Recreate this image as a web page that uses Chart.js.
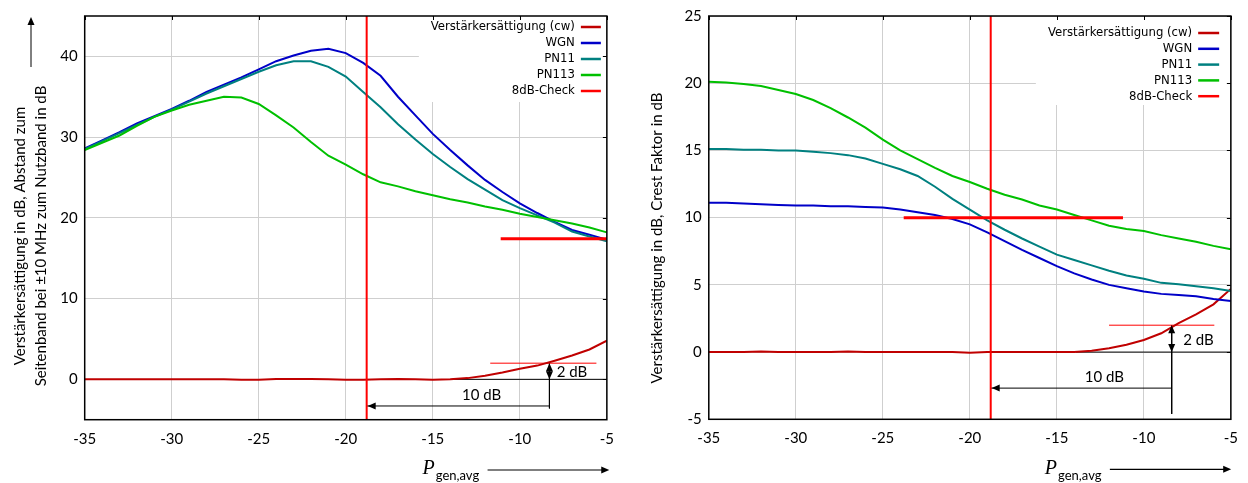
<!DOCTYPE html>
<html>
<head>
<meta charset="utf-8">
<script src="https://cdn.jsdelivr.net/npm/chart.js@4.4.1/dist/chart.umd.min.js"></script>
<style>
  html, body { margin: 0; padding: 0; background: #fff; }
  #wrap { position: relative; width: 1248px; height: 483px; }
  #wrap canvas { position: absolute; top: 0; }
</style>
</head>
<body>
<div id="wrap">
  <canvas id="sideband" width="624" height="483" style="left:0"></canvas>
  <canvas id="crest" width="624" height="483" style="left:624px"></canvas>
</div>
<script>
// Generator power P_gen,avg in dB (common abscissa of all measured curves)
const pGen = [-35, -34, -33, -32, -31, -30, -29, -28, -27, -26, -25, -24, -23, -22, -21, -20,
              -19, -18, -17, -16, -15, -14, -13, -12, -11, -10, -9, -8, -7, -6, -5];

// Left: amplifier saturation and sideband distance at ±10 MHz
const sideCw    = [0, 0, 0, 0, 0, 0, 0, 0, 0, -0.05, -0.05, 0.05, 0.05, 0.05, 0, -0.05, -0.05, 0, 0.05, 0, -0.05, 0,
                   0.15, 0.45, 0.85, 1.3, 1.7, 2.3, 2.95, 3.7, 4.8];
const sideWgn   = [28.6, 29.6, 30.6, 31.7, 32.6, 33.5, 34.5, 35.6, 36.5, 37.4, 38.4, 39.4, 40.1, 40.7, 40.95, 40.4,
                   39.2, 37.6, 35.0, 32.7, 30.4, 28.4, 26.5, 24.7, 23.2, 21.8, 20.6, 19.5, 18.5, 17.9, 17.3];
const sidePn11  = [28.5, 29.5, 30.5, 31.5, 32.5, 33.4, 34.4, 35.4, 36.3, 37.2, 38.1, 38.9, 39.4, 39.4, 38.7, 37.5,
                   35.6, 33.7, 31.6, 29.7, 27.9, 26.3, 24.8, 23.5, 22.2, 21.2, 20.3, 19.4, 18.3, 17.7, 17.1];
const sidePn113 = [28.4, 29.3, 30.2, 31.4, 32.5, 33.3, 34.0, 34.5, 35.0, 34.9, 34.1, 32.7, 31.2, 29.4, 27.7, 26.6,
                   25.4, 24.4, 23.9, 23.3, 22.8, 22.3, 21.9, 21.4, 21.0, 20.5, 20.1, 19.7, 19.3, 18.8, 18.2];

// Right: amplifier saturation and crest factor
const crestCw    = [0, 0, 0, 0.05, 0, 0, 0, 0, 0.05, 0, 0, 0, 0, 0, 0, -0.05, 0, 0, 0, 0, 0, 0,
                    0.1, 0.28, 0.55, 0.9, 1.4, 2.15, 2.8, 3.55, 4.7];
const crestWgn   = [11.1, 11.1, 11.05, 11.0, 10.95, 10.9, 10.9, 10.85, 10.85, 10.8, 10.75, 10.6, 10.4, 10.2, 9.9, 9.5,
                    8.9, 8.25, 7.6, 7.0, 6.4, 5.85, 5.4, 5.0, 4.75, 4.5, 4.33, 4.25, 4.15, 3.95, 3.8];
const crestPn11  = [15.1, 15.1, 15.05, 15.05, 15.0, 15.0, 14.9, 14.8, 14.65, 14.4, 14.0, 13.6, 13.1, 12.3, 11.4, 10.6,
                    9.8, 9.1, 8.45, 7.85, 7.25, 6.85, 6.45, 6.05, 5.7, 5.45, 5.15, 5.05, 4.9, 4.75, 4.55];
const crestPn113 = [20.1, 20.05, 19.95, 19.8, 19.5, 19.2, 18.75, 18.15, 17.45, 16.7, 15.8, 15.0, 14.35, 13.7, 13.1, 12.65,
                    12.15, 11.7, 11.35, 10.9, 10.6, 10.2, 9.8, 9.4, 9.15, 9.0, 8.7, 8.45, 8.2, 7.9, 7.65];

// 8 dB check: operating point 10 dB below the 2 dB saturation point
const checkPower   = -18.8;          // vertical check line
const sideCheck    = [-11.1, -5];    // horizontal check segment (x range), left
const sideCheckLvl = 17.4;
const crestCheck   = [-23.8, -11.2]; // horizontal check segment (x range), right
const crestCheckLvl = 10;
const satLevel     = 2;              // "2 dB" saturation marker
const sideSatPoint = -8.3;
const crestSatPoint = -8.4;

// Axis ticks
const xTicks     = [-35, -30, -25, -20, -15, -10, -5];
const sideYTicks = [0, 10, 20, 30, 40];
const crestYTicks = [-5, 0, 5, 10, 15, 20, 25];

const legendLabels = ['Verstärkersättigung (cw)', 'WGN', 'PN11', 'PN113', '8dB-Check'];
const colors = { cw: '#c00000', wgn: '#0000c8', pn11: '#008080', pn113: '#00c000', check: '#ff0000' };

const TICK_FONT = 'Lato';
const LEGEND_FONT = '"DejaVu Sans Condensed", "DejaVu Sans", sans-serif';

function pts(xs, ys) { return xs.map((x, i) => ({ x: x, y: ys[i] })); }

function curve(label, ys, color, order) {
  return { label, data: pts(pGen, ys), borderColor: color, borderWidth: 2, pointRadius: 0,
           tension: 0, fill: false, order };
}
function seg(data, color, width, order) {
  return { label: '', data, borderColor: color, borderWidth: width, pointRadius: 0,
           tension: 0, fill: false, order };
}

function arrowHead(ctx, x, y, dx, dy) {
  const len = 8, half = 3.5;
  const px = -dy, py = dx;
  ctx.beginPath();
  ctx.moveTo(x, y);
  ctx.lineTo(x - dx * len + px * half, y - dy * len + py * half);
  ctx.lineTo(x - dx * len - px * half, y - dy * len - py * half);
  ctx.closePath();
  ctx.fill();
}

function buildChart(id, cfg) {
  const ds = [
    curve(legendLabels[0], cfg.cw, colors.cw, 5),
    curve(legendLabels[1], cfg.wgn, colors.wgn, 4),
    curve(legendLabels[2], cfg.pn11, colors.pn11, 3),
    curve(legendLabels[3], cfg.pn113, colors.pn113, 2),
    seg([{ x: checkPower, y: cfg.yMin }, { x: checkPower, y: cfg.yMax }], colors.check, 2, 1),
    seg([{ x: cfg.check[0], y: cfg.checkLvl }, { x: cfg.check[1], y: cfg.checkLvl }], colors.check, 3, 0),
    // saturation marker and dimension lines
    seg([{ x: cfg.satLine[0], y: satLevel }, { x: cfg.satLine[1], y: satLevel }], colors.check, 1, 6),
    seg([{ x: -13.9, y: 0 }, { x: -5, y: 0 }], '#000', 1, 7),
    seg([{ x: cfg.satPoint, y: satLevel }, { x: cfg.satPoint, y: cfg.dimEnd }], '#000', 1, 7),
    seg([{ x: cfg.satPoint, y: cfg.dimY }, { x: checkPower, y: cfg.dimY }], '#000', 1, 7)
  ];

  const frame = {
    id: 'frame',
    beforeDatasetsDraw(chart) {
      const { ctx, chartArea: a } = chart;
      const L = cfg.legend;
      ctx.save();
      ctx.fillStyle = '#fff';
      ctx.fillRect(a.right - L.boxWidth, a.top + 1, L.boxWidth - 1, L.boxHeight);
      ctx.font = '13px ' + LEGEND_FONT;
      ctx.textAlign = 'right';
      ctx.textBaseline = 'middle';
      const cols = [colors.cw, colors.wgn, colors.pn11, colors.pn113, colors.check];
      legendLabels.forEach((t, i) => {
        const y = a.top + L.first + i * L.step;
        ctx.fillStyle = '#000';
        ctx.fillText(t, a.right - L.textRight, y);
        ctx.strokeStyle = cols[i];
        ctx.lineWidth = 2.5;
        ctx.beginPath();
        ctx.moveTo(a.right - L.lineFrom, y);
        ctx.lineTo(a.right - L.lineTo, y);
        ctx.stroke();
      });
      ctx.restore();
    },
    afterDatasetsDraw(chart) {
      const { ctx, chartArea: a, scales } = chart;
      const xs = scales.x, ys = scales.y;
      ctx.save();
      // frame
      ctx.strokeStyle = '#000';
      ctx.lineWidth = 1.5;
      ctx.strokeRect(a.left, a.top, a.right - a.left, a.bottom - a.top);
      // mirrored inward ticks
      ctx.lineWidth = 1;
      ctx.beginPath();
      xTicks.forEach(v => {
        const px = Math.round(xs.getPixelForValue(v)) + 0.5;
        ctx.moveTo(px, a.top); ctx.lineTo(px, a.top + 4);
      });
      cfg.yTicks.forEach(v => {
        const py = Math.round(ys.getPixelForValue(v)) + 0.5;
        ctx.moveTo(a.right, py); ctx.lineTo(a.right - 4, py);
      });
      ctx.stroke();
      // arrow heads of the dimension lines
      ctx.fillStyle = '#000';
      const sx = xs.getPixelForValue(cfg.satPoint);
      arrowHead(ctx, sx, ys.getPixelForValue(satLevel), 0, -1);
      arrowHead(ctx, sx, ys.getPixelForValue(0), 0, 1);
      arrowHead(ctx, xs.getPixelForValue(checkPower) + 1, ys.getPixelForValue(cfg.dimY), -1, 0);
      // dimension labels
      ctx.font = '15px ' + TICK_FONT;
      ctx.textAlign = 'center';
      ctx.textBaseline = 'middle';
      ctx.fillText('2 dB', xs.getPixelForValue(cfg.satLabel[0]), ys.getPixelForValue(cfg.satLabel[1]));
      ctx.fillText('10 dB', xs.getPixelForValue(cfg.dimLabel[0]), ys.getPixelForValue(cfg.dimLabel[1]));
      ctx.restore();
    },
    afterDraw(chart) {
      const { ctx, chartArea: a } = chart;
      ctx.save();
      ctx.fillStyle = '#000';
      ctx.strokeStyle = '#000';
      // y axis title
      ctx.font = '15px ' + TICK_FONT;
      ctx.textAlign = 'center';
      ctx.textBaseline = 'middle';
      cfg.yTitle.forEach((t, i) => {
        ctx.save();
        ctx.translate(cfg.yTitleX[i], cfg.yTitleMid);
        ctx.rotate(-Math.PI / 2);
        ctx.fillText(t, 0, 0);
        ctx.restore();
      });
      if (cfg.yArrow) {
        ctx.lineWidth = 1;
        ctx.beginPath();
        ctx.moveTo(cfg.yArrow[0], cfg.yArrow[1]);
        ctx.lineTo(cfg.yArrow[0], cfg.yArrow[2] + 6);
        ctx.stroke();
        arrowHead(ctx, cfg.yArrow[0], cfg.yArrow[2], 0, -1);
      }
      // x axis title: P_gen,avg followed by an arrow
      const px = a.right - cfg.xTitle[0];
      ctx.textAlign = 'left';
      ctx.textBaseline = 'alphabetic';
      ctx.font = 'italic 20px "Liberation Serif", serif';
      ctx.fillText('P', px, 474);
      const pw = ctx.measureText('P').width;
      ctx.font = '13px ' + TICK_FONT;
      ctx.fillText('gen,avg', px + pw + 1, 480);
      ctx.lineWidth = 1.2;
      ctx.beginPath();
      ctx.moveTo(a.right - cfg.xTitle[1], cfg.xTitle[2]);
      ctx.lineTo(a.right + cfg.xTitle[3] - 6, cfg.xTitle[2]);
      ctx.stroke();
      arrowHead(ctx, a.right + cfg.xTitle[3], cfg.xTitle[2], 1, 0);
      ctx.restore();
    }
  };

  const tickFont = { family: TICK_FONT, size: 15 };
  return new Chart(document.getElementById(id), {
    type: 'line',
    data: { datasets: ds },
    options: {
      responsive: false,
      animation: false,
      devicePixelRatio: 1,
      layout: { padding: cfg.padding },
      plugins: { legend: { display: false }, tooltip: { enabled: false } },
      scales: {
        x: {
          type: 'linear', min: -35, max: -5,
          afterBuildTicks: s => { s.ticks = xTicks.map(v => ({ value: v })); },
          afterFit: s => { s.height = cfg.xAxisHeight; },
          grid: { color: '#cfcfcf', lineWidth: 1, drawTicks: false },
          border: { display: false },
          ticks: { padding: 10, color: '#000', font: tickFont }
        },
        y: {
          type: 'linear', min: cfg.yMin, max: cfg.yMax,
          afterBuildTicks: s => { s.ticks = cfg.yTicks.map(v => ({ value: v })); },
          afterFit: s => { s.width = cfg.yAxisWidth; },
          grid: { color: '#cfcfcf', lineWidth: 1, drawTicks: false },
          border: { display: false },
          ticks: { padding: 7, color: '#000', font: tickFont }
        }
      }
    },
    plugins: [frame]
  });
}

buildChart('sideband', {
  cw: sideCw, wgn: sideWgn, pn11: sidePn11, pn113: sidePn113,
  yMin: -5, yMax: 45, yTicks: sideYTicks,
  check: sideCheck, checkLvl: sideCheckLvl,
  satPoint: sideSatPoint, satLine: [-11.7, -5.6], dimEnd: -3.6, dimY: -3.3,
  satLabel: [-7.0, 0.85], dimLabel: [-12.2, -2.0],
  padding: { left: 0, right: 14.7, top: 15.7, bottom: 0 },
  yAxisWidth: 84.7, xAxisHeight: 63.3,
  legend: { boxWidth: 188, boxHeight: 85, first: 11, step: 16, textRight: 32, lineFrom: 26, lineTo: 6 },
  yTitle: ['Verstärkersättigung in dB, Abstand zum', 'Seitenband bei ±10 MHz zum Nutzband in dB'],
  yTitleX: [20, 41], yTitleMid: 236, yArrow: [31, 67, 17],
  xTitle: [184.3, 119.3, 470, 2.4]
});

buildChart('crest', {
  cw: crestCw, wgn: crestWgn, pn11: crestPn11, pn113: crestPn113,
  yMin: -5, yMax: 25, yTicks: crestYTicks,
  check: crestCheck, checkLvl: crestCheckLvl,
  satPoint: crestSatPoint, satLine: [-12.0, -5.95], dimEnd: -4.6, dimY: -2.68,
  satLabel: [-6.86, 0.87], dimLabel: [-12.27, -1.87],
  padding: { left: 0, right: 10.3, top: 14.7, bottom: 0 },
  yAxisWidth: 84.8, xAxisHeight: 63.7,
  legend: { boxWidth: 195, boxHeight: 88, first: 17, step: 15.8, textRight: 38.7, lineFrom: 32.7, lineTo: 11.7 },
  yTitle: ['Verstärkersättigung in dB, Crest Faktor in dB'],
  yTitleX: [33], yTitleMid: 238, yArrow: null,
  xTitle: [186, 121, 469.3, 0.3]
});
</script>
</body>
</html>
